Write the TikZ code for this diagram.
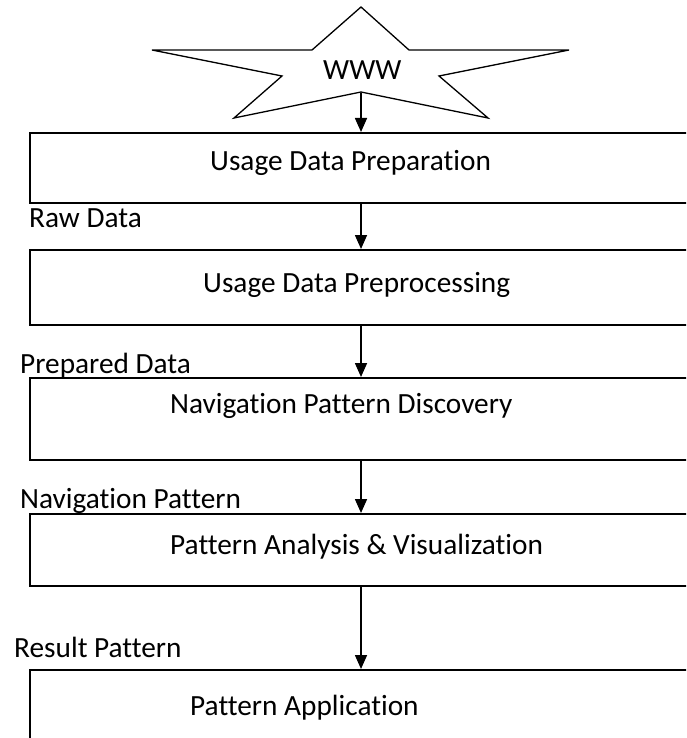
\documentclass[tikz,border=0pt]{standalone}
\usepackage{fontspec}
\setmainfont[Ligatures={NoCommon}]{Carlito}
\usetikzlibrary{arrows.meta}
\begin{document}
\begin{tikzpicture}[x=1pt,y=-1pt,
  stagebox/.style={draw,line width=1.6pt,rectangle,minimum width=680pt,anchor=north west,inner sep=0pt},
  txt/.style={anchor=base west,inner sep=0pt,font=\fontsize{29.3}{33}\selectfont},
  flow/.style={line width=1.6pt,-{Triangle[length=14pt,width=12pt]}}]
\clip (0,0) rectangle (686,738);
\fill[white] (0,0) rectangle (686,738);
% star
\draw[line width=1.3pt,line join=miter] (361,7) -- (409,50) -- (569,50) -- (439,76) -- (488,118) -- (361,92) -- (234,118) -- (282,76) -- (152,50) -- (312,50) -- cycle;
\coordinate (starbot) at (361,93);
\node[txt] (www) at (323,80) {WWW};
% boxes
\node[stagebox,minimum height=70pt] (b1) at (29,132) {};
\node[stagebox,minimum height=75pt] (b2) at (29,249) {};
\node[stagebox,minimum height=82pt] (b3) at (29,377) {};
\node[stagebox,minimum height=72pt] (b4) at (29,513) {};
\node[stagebox,minimum height=100pt] (b5) at (29,669) {};
% box texts
\node[txt] (t1) at (210,171) {Usage Data Preparation};
\node[txt] (t2) at (203,292) {Usage Data Preprocessing};
\node[txt] (t3) at (170,413) {Navigation Pattern Discovery};
\node[txt] (t4) at (170,554) {Pattern Analysis \& Visualization};
\node[txt] (t5) at (190,715) {Pattern Application};
% labels
\node[txt] (l1) at (29,227) {Raw Data};
\node[txt] (l2) at (20,373) {Prepared Data};
\node[txt] (l3) at (20,508) {Navigation Pattern};
\node[txt] (l4) at (14,657) {Result Pattern};
% arrows
\coordinate (a1) at (361,202);
\coordinate (a2) at (361,324);
\coordinate (a3) at (361,459);
\coordinate (a4) at (361,585);
\draw[flow] (starbot) -- (starbot |- b1.north);
\draw[flow] (a1) -- (a1 |- b2.north);
\draw[flow] (a2) -- (a2 |- b3.north);
\draw[flow] (a3) -- (a3 |- b4.north);
\draw[flow] (a4) -- (a4 |- b5.north);
\end{tikzpicture}
\end{document}
